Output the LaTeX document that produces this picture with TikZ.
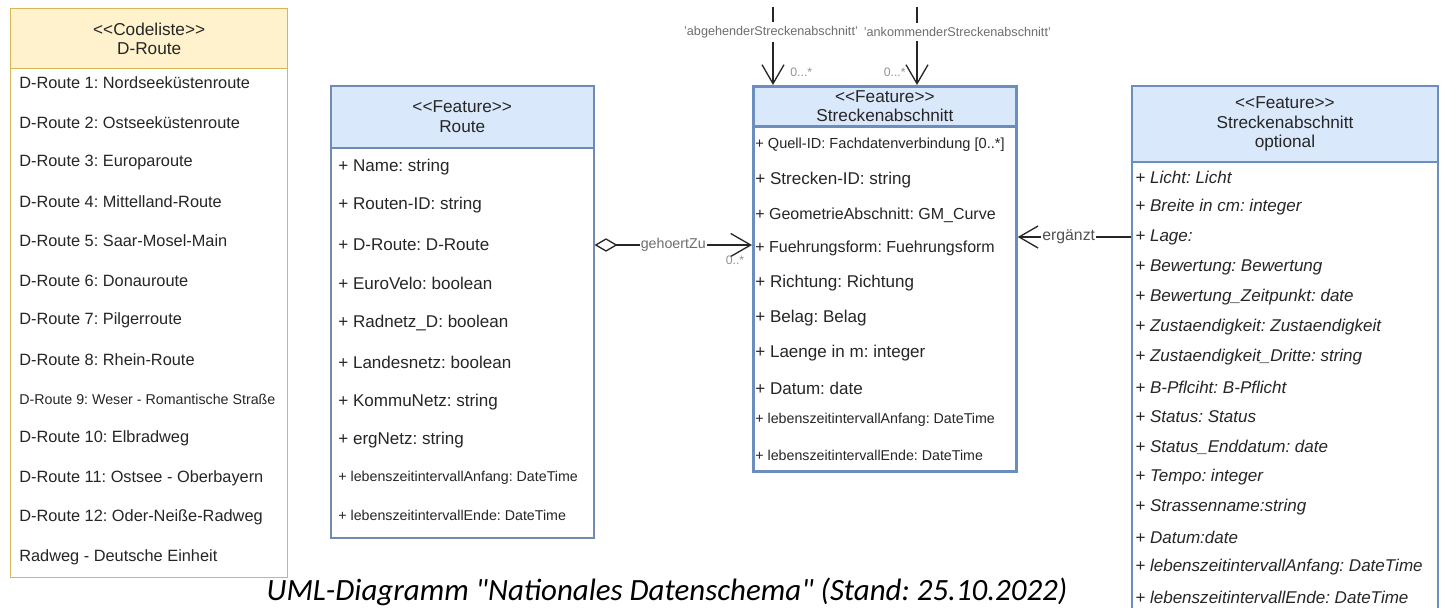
\documentclass[tikz,border=0pt]{standalone}
\usepackage{fontspec}
\setmainfont{Liberation Sans}
\newfontfamily\captionfont{Carlito}
\usetikzlibrary{arrows.meta,positioning}
\frenchspacing

\definecolor{umlblue}{HTML}{DAE8FC}
\definecolor{umlblueline}{HTML}{6C8EBF}
\definecolor{umlyellow}{HTML}{FFF2CC}
\definecolor{umlyellowline}{HTML}{D6B656}
\definecolor{umltext}{HTML}{262626}
\definecolor{umllabel}{HTML}{6E6E6E}

\tikzset{
  classhead/.style={draw=umlblueline, fill=umlblue, align=center, inner sep=0pt,
    text=umltext, font=\fontsize{9.8}{11}\selectfont, anchor=north west},
  classbody/.style={draw=umlblueline, fill=white, inner sep=0pt, anchor=north west},
  codehead/.style={classhead, draw=umlyellowline, fill=umlyellow},
  codebody/.style={classbody, draw=umlyellowline},
  attr/.style={anchor=west, inner sep=0pt, text=umltext, font=\fontsize{9.7}{11}\selectfont},
  codeattr/.style={attr, font=\fontsize{9.3}{11}\selectfont},
  midattr/.style={attr, font=\fontsize{9.1}{11}\selectfont},
  smallattr/.style={attr, font=\fontsize{8.1}{10}\selectfont},
  optattr/.style={attr, font=\fontsize{9.7}{11}\selectfont\itshape},
  assoc/.style={draw=black!85, line width=0.75pt},
  openhead/.style={-{Straight Barb[length=0.38cm,width=0.44cm]}},
  lbl/.style={fill=white, inner xsep=0.5pt, inner ysep=2.5pt, text=umllabel,
    font=\fontsize{8.1}{9}\selectfont},
  mult/.style={inner sep=0pt, text=umllabel!75, font=\fontsize{7}{8}\selectfont},
}

\begin{document}
\begin{tikzpicture}[x=0.02cm, y=-0.02cm]
  \useasboundingbox (0,0) rectangle (1441,608);
  \clip (0,0) rectangle (1441,608);

  % Codeliste D-Route
  \node[codebody, line width=0.8pt, minimum width=5.54cm, minimum height=10.18cm] (drb) at (10,68) {};
  \node[codehead, line width=0.8pt, minimum width=5.54cm, minimum height=1.2cm] (drh) at (10,8)
    {<{}<Codeliste>{}>\\D-Route};
  \node[codeattr] (dr1) at (19,83) {D-Route 1: Nordseeküstenroute};
  \node[codeattr] (dr2) at (19,122.5) {D-Route 2: Ostseeküstenroute};
  \node[codeattr] (dr3) at (19,162) {D-Route 3: Europaroute};
  \node[codeattr] (dr4) at (19,201.5) {D-Route 4: Mittelland-Route};
  \node[codeattr] (dr5) at (19,241) {D-Route 5: Saar-Mosel-Main};
  \node[codeattr] (dr6) at (19,280.5) {D-Route 6: Donauroute};
  \node[codeattr] (dr7) at (19,320) {D-Route 7: Pilgerroute};
  \node[codeattr] (dr8) at (19,359.5) {D-Route 8: Rhein-Route};
  \node[smallattr] (dr9) at (19,399) {D-Route 9: Weser - Romantische Straße};
  \node[codeattr] (dr10) at (19,438.5) {D-Route 10: Elbradweg};
  \node[codeattr] (dr11) at (19,478) {D-Route 11: Ostsee - Oberbayern};
  \node[codeattr] (dr12) at (19,517.5) {D-Route 12: Oder-Neiße-Radweg};
  \node[codeattr] (dr13) at (19,557) {Radweg - Deutsche Einheit};

  % Feature Route
  \node[classbody, draw=umlblueline!80!gray, line width=0.9pt, minimum width=5.26cm, minimum height=7.8cm] (rtb) at (330,147) {};
  \node[classhead, draw=umlblueline!80!gray, line width=0.9pt, minimum width=5.26cm, minimum height=1.24cm] (rth) at (330,85)
    {<{}<Feature>{}>\\Route};
  \node[attr] (ra1) at (338,167) {+ Name: string};
  \node[attr] (ra2) at (338,205) {+ Routen-ID: string};
  \node[attr] (ra3) at (338,245) {+ D-Route: D-Route};
  \node[attr] (ra4) at (338,283) {+ EuroVelo: boolean};
  \node[attr] (ra5) at (338,323) {+ Radnetz\_D: boolean};
  \node[attr] (ra6) at (338,362) {+ Landesnetz: boolean};
  \node[attr] (ra7) at (338,402) {+ KommuNetz: string};
  \node[attr] (ra8) at (338,440) {+ ergNetz: string};
  \node[smallattr] (ra9) at (338,478) {+ lebenszeitintervallAnfang: DateTime};
  \node[smallattr] (ra10) at (338,515) {+ lebenszeitintervallEnde: DateTime};

  % Feature Streckenabschnitt
  \node[classbody, line width=1.6pt, minimum width=5.26cm, minimum height=6.9cm] (sab) at (752,125) {};
  \node[classhead, line width=1.6pt, minimum width=5.26cm, minimum height=0.8cm] (sah) at (752,85)
    {<{}<Feature>{}>\\Streckenabschnitt};
  \node[smallattr, font=\fontsize{8.3}{10}\selectfont] (sa1) at (755,145) {+ Quell-ID: Fachdatenverbindung [0..*]};
  \node[attr] (sa2) at (755,180) {+ Strecken-ID: string};
  \node[midattr] (sa3) at (755,215) {+ GeometrieAbschnitt: GM\_Curve};
  \node[midattr] (sa4) at (755,248) {+ Fuehrungsform: Fuehrungsform};
  \node[attr] (sa5) at (755,283) {+ Richtung: Richtung};
  \node[attr] (sa6) at (755,318) {+ Belag: Belag};
  \node[attr] (sa7) at (755,353) {+ Laenge in m: integer};
  \node[attr] (sa8) at (755,388) {+ Datum: date};
  \node[smallattr] (sa9) at (755,420) {+ lebenszeitintervallAnfang: DateTime};
  \node[smallattr] (sa10) at (755,455) {+ lebenszeitintervallEnde: DateTime};

  % Feature Streckenabschnitt optional
  \node[classbody, line width=1.1pt, minimum width=6.12cm, minimum height=9.2cm] (sob) at (1131,161) {};
  \node[classhead, line width=1.1pt, minimum width=6.12cm, minimum height=1.52cm] (soh) at (1131,85)
    {<{}<Feature>{}>\\Streckenabschnitt\\optional};
  \node[optattr] (so1) at (1135,177) {+ Licht: Licht};
  \node[optattr] (so2) at (1135,207) {+ Breite in cm: integer};
  \node[optattr] (so3) at (1135,237) {+ Lage:};
  \node[optattr] (so4) at (1135,267) {+ Bewertung: Bewertung};
  \node[optattr] (so5) at (1135,297) {+ Bewertung\_Zeitpunkt: date};
  \node[optattr] (so6) at (1135,327) {+ Zustaendigkeit: Zustaendigkeit};
  \node[optattr] (so7) at (1135,357) {+ Zustaendigkeit\_Dritte: string};
  \node[optattr] (so8) at (1135,387) {+ B-Pflciht: B-Pflicht};
  \node[optattr] (so9) at (1135,417) {+ Status: Status};
  \node[optattr] (so10) at (1135,447) {+ Status\_Enddatum: date};
  \node[optattr] (so11) at (1135,477) {+ Tempo: integer};
  \node[optattr] (so12) at (1135,507) {+ Strassenname:string};
  \node[optattr] (so13) at (1135,537) {+ Datum:date};
  \node[optattr] (so14) at (1135,567) {+ lebenszeitintervallAnfang: DateTime};
  \node[optattr] (so15) at (1135,597) {+ lebenszeitintervallEnde: DateTime};

  % associations
  \draw[assoc, {Diamond[open,length=0.46cm,width=0.27cm]}-{Straight Barb[length=0.4cm,width=0.46cm]}]
    (rtb.east |- ra3) -- node[lbl, pos=0.5] (geh) {gehoertZu} (sab.west |- ra3);
  \node[mult] (m0) at (735,260) {0..*};

  \draw[assoc, openhead] (sob.west |- so3) -- node[lbl, pos=0.55, text=umltext!80, font=\fontsize{9}{10}\selectfont] (erg) {ergänzt} (sab.east |- so3);

  \coordinate (t1) at (773,7);
  \coordinate (t2) at (917,7);
  \draw[assoc, openhead] (t1) -- (sah.north -| t1);
  \draw[assoc, openhead] (t2) -- (sah.north -| t2);
  \node[lbl, font=\fontsize{7.2}{8}\selectfont] (abg) at (771,32) {'abgehenderStreckenabschnitt'};
  \node[lbl, font=\fontsize{7.2}{8}\selectfont, right=2pt of abg] (ank) {'ankommenderStreckenabschnitt'};
  \node[mult, anchor=west] (m1) at (790,72) {0...*};
  \node[mult, anchor=east] (m2) at (906,72) {0...*};

  % caption
  \node[font=\captionfont\itshape\fontsize{17.6}{20}\selectfont, text=black, inner sep=0pt] (cap) at (667,592)
    {UML-Diagramm "Nationales Datenschema" (Stand: 25.10.2022)};
\end{tikzpicture}
\end{document}
